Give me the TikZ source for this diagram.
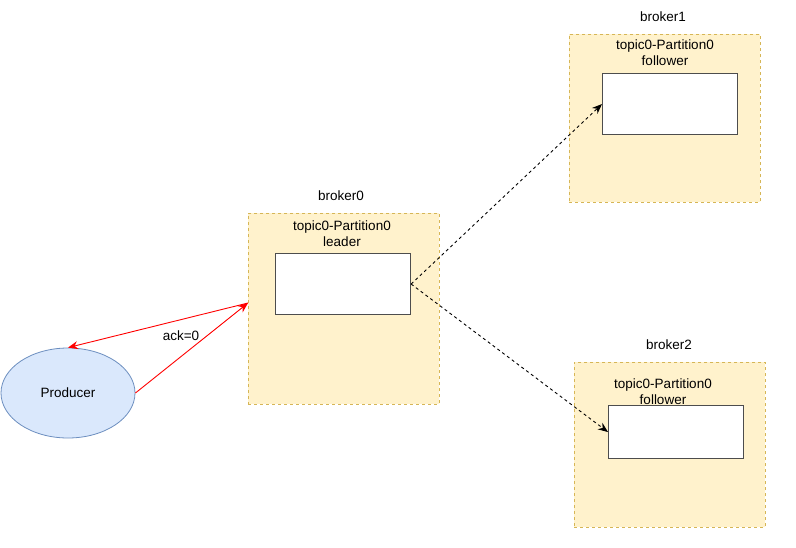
\documentclass[tikz,border=0pt]{standalone}
\usepackage{fontspec}
\setmainfont{Liberation Sans}
\usetikzlibrary{arrows.meta,shapes.geometric}
\definecolor{brokerfill}{HTML}{FFF2CC}
\definecolor{brokerdraw}{HTML}{D6B656}
\definecolor{prodfill}{HTML}{DAE8FC}
\definecolor{proddraw}{HTML}{6C8EBF}
\definecolor{partdraw}{HTML}{4D4D4D}
\begin{document}
\begin{tikzpicture}[x=1pt,y=-1pt,
  every node/.style={font=\fontsize{13.5}{16}\selectfont, inner sep=0pt},
  brokerbox/.style={draw=brokerdraw, fill=brokerfill, dashed, line width=0.8pt},
  partbox/.style={draw=partdraw, fill=white, line width=1.1pt},
  lbl/.style={align=center, text=black},
  redarrow/.style={draw=red, line width=0.9pt, -{Stealth[length=10pt,width=8pt]}},
  reparrow/.style={draw=black, line width=0.9pt, dashed, -{Stealth[length=10pt,width=8pt]}}]
\useasboundingbox (0,0) rectangle (796,547);
% broker0
\node[brokerbox, minimum width=191pt, minimum height=191pt, anchor=north west] (b0) at (248,213) {};
\node[lbl] (b0t) at (341,196) {broker0};
\node[lbl] (p0t) at (342,234) {topic0-Partition0\\leader};
\node[partbox, minimum width=135pt, minimum height=61pt, anchor=north west] (p0) at (275,253) {};
% broker1
\node[brokerbox, minimum width=191pt, minimum height=168pt, anchor=north west] (b1) at (569,34) {};
\node[lbl] (b1t) at (663,17) {broker1};
\node[lbl] (p1t) at (665,53) {topic0-Partition0\\follower};
\node[partbox, minimum width=135pt, minimum height=61pt, anchor=north west] (p1) at (602,73) {};
% broker2
\node[brokerbox, minimum width=191pt, minimum height=165pt, anchor=north west] (b2) at (574,362) {};
\node[lbl] (b2t) at (669,345) {broker2};
\node[lbl] (p2t) at (663,392) {topic0-Partition0\\follower};
\node[partbox, minimum width=135pt, minimum height=53pt, anchor=north west] (p2) at (608,405) {};
% producer
\node[ellipse, draw=proddraw, fill=prodfill, line width=0.8pt, minimum width=134pt, minimum height=90pt] (prod) at (68,393) {Producer};
\coordinate (b0in) at (248,303);
\draw[redarrow] (prod.east) -- (b0in);
\draw[redarrow] (b0in) -- (prod.north);
\node[lbl] (ack) at (181,336) {ack=0};
% replication
\draw[reparrow] (p0.east) -- (p1.west);
\draw[reparrow] (p0.east) -- (p2.west);
\end{tikzpicture}
\end{document}
